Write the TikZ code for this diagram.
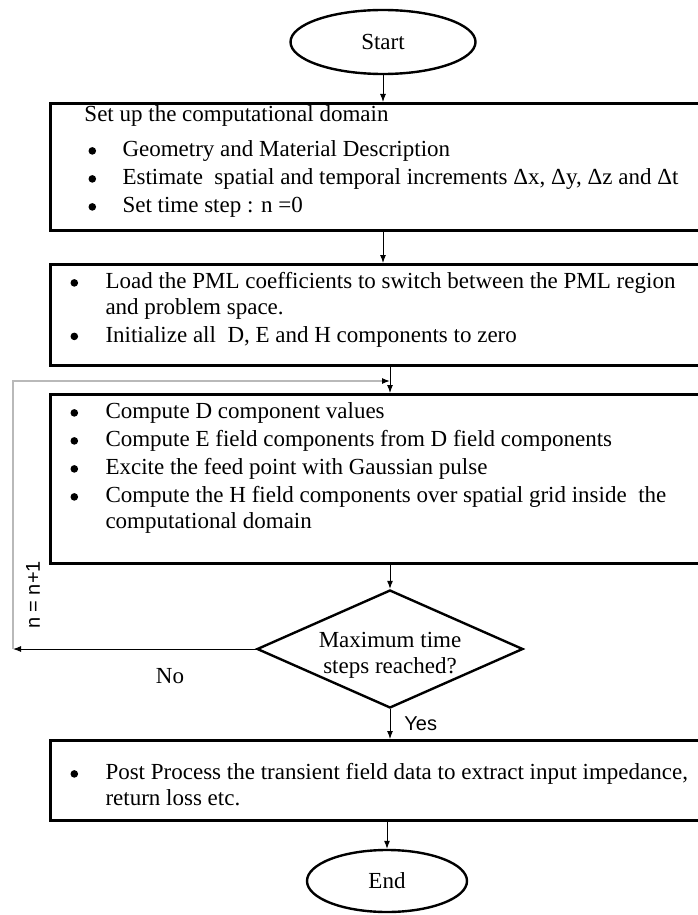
\documentclass[tikz,border=0pt]{standalone}
\usepackage{fontspec}
\setmainfont{Liberation Serif}
\newfontfamily\labelsans{Liberation Sans}
\usetikzlibrary{shapes.geometric,arrows.meta}

% fixed-height text block filling a process box
\newcommand{\boxtext}[2]{\parbox[c][#1][t]{345pt}{\raggedright\parskip=1.25pt #2}}
% bullet line: bullet at #1, text at #2
\newcommand{\bigdot}{\tikz[baseline=-2.8pt]\fill (0,0) circle (1.9pt);}
\newcommand{\bline}[3]{\par\leftskip=#2\relax\noindent\hspace*{\dimexpr#1-#2\relax}\makebox[\dimexpr#2-#1\relax][l]{\bigdot}#3}

\begin{document}
\begin{tikzpicture}[
        x=0.5pt, y=-0.5pt,
        font=\fontsize{11.5}{12.75}\selectfont,
        terminal/.style={draw, ellipse, line width=1.2pt, inner sep=0pt},
        procbox/.style={draw, line width=1.5pt, anchor=north west, inner sep=0pt},
        decision/.style={draw, diamond, aspect=2.25, line width=1.2pt, inner sep=-1.2pt, align=center},
        arrowline/.style={-{Latex[length=4pt,width=3pt]}, line width=0.5pt},
        loopline/.style={draw=gray!55, line width=0.6pt},
        sidelabel/.style={inner sep=0pt, font=\labelsans\fontsize{10}{12}\selectfont},
        ]

        \useasboundingbox (0,0) rectangle (697,915);

        \node[terminal, minimum width=92.5pt, minimum height=32pt] (start) at (383,42) {Start};

        \node[procbox] (setup) at (49,102) {\boxtext{63.5pt}{%
            \noindent\rule{0pt}{9pt}\hspace*{17pt}Set up the computational domain\par\vspace{3.5pt}
            \bline{19pt}{36pt}{Geometry and Material Description}
            \bline{19pt}{36pt}{Estimate\ \ spatial and temporal increments Δx, Δy, Δz and Δt}
            \bline{19pt}{36pt}{Set time step : n =0}}};

        \node[procbox] (init) at (49,263) {\boxtext{50.5pt}{%
            \bline{10pt}{27.5pt}{\rule{0pt}{12pt}Load the PML coefficients to switch between the PML region\newline and problem space.}
            \bline{10pt}{27.5pt}{Initialize all\ \ D, E and H components to zero}}};

        \node[procbox] (update) at (49,393) {\boxtext{84.5pt}{%
            \bline{10pt}{27.5pt}{\rule{0pt}{12pt}Compute D component values}
            \bline{10pt}{27.5pt}{Compute E field components from D field components}
            \bline{10pt}{27.5pt}{Excite the feed point with Gaussian pulse}
            \bline{10pt}{27.5pt}{Compute the H field components over spatial grid inside\ \ the\newline computational domain}}};

        \node[decision, minimum width=133pt, minimum height=59pt] (check) at (390,649) {\rule{0pt}{14pt}Maximum time\\steps reached?};

        \node[procbox] (post) at (49,739) {\boxtext{40pt}{%
            \bline{10pt}{27.5pt}{\rule{0pt}{19.5pt}Post Process the transient field data to extract input impedance,\newline return loss etc.}}};

        \node[terminal, minimum width=80pt, minimum height=31pt] (end) at (387,881) {End};

        % main flow
        \draw[arrowline] (start) -- (start |- setup.north);
        \draw[arrowline] (setup.south -| start) -- (init.north -| start);
        \draw[arrowline] (init.south -| check) -- (update.north -| check);
        \draw[arrowline] (update.south -| check) -- (check.north);
        \draw[arrowline] (check.south) -- (check.south |- post.north);
        \draw[arrowline] (post.south -| end) -- (end.north);

        % time step loop
        \coordinate (loopcorner) at (13,381);
        \draw[arrowline] (check.west) -- (check.west -| loopcorner);
        \draw[loopline, -{Latex[length=4pt,width=3pt,color=black]}] (check.west -| loopcorner) -- (loopcorner) -- (loopcorner -| check);

        \node[anchor=base, inner sep=0pt] (no) at (170,683) {No};
        \node[sidelabel, anchor=base west] (yes) at (404,730) {Yes};
        \node[sidelabel, rotate=90] (counter) at (33,595) {n = n+1};

    \end{tikzpicture}
\end{document}
